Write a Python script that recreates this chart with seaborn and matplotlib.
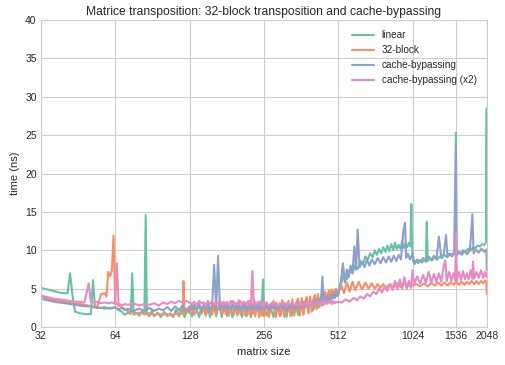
import matplotlib
matplotlib.use("Agg")
import matplotlib.pyplot as plt
import pandas as pd
import seaborn as sns

# time (ns) per element
# the 128..512 stretch is measured on a shared grid of matrix sizes
mid_size = list(range(128, 256, 3)) + list(range(256, 512, 6))

linear_low_size = [32, 34, 36, 38, 40, 41, 42, 43, 44, 46, 48, 50, 51, 52, 53, 56, 58, 60, 62, 64,
                   66, 68, 70, 72, 74, 75, 76, 78, 80, 82, 84, 85, 86, 88, 90, 92, 95, 98, 101, 104,
                   107, 110, 113, 116, 119, 122, 125]
linear_low = [5.1, 4.9, 4.7, 4.5, 4.4, 4.4, 7.0, 4.0, 2.0, 1.8, 1.7, 1.7, 1.7, 6.1, 2.6, 2.5, 2.6, 2.4, 2.5, 2.6,
              2.2, 2.0, 1.6, 1.9, 1.7, 7.0, 1.6, 1.8, 1.5, 2.0, 1.6, 14.6, 1.7, 1.4, 2.1, 1.4, 1.9, 1.3, 2.0, 1.4,
              1.8, 1.3, 2.3, 1.4, 2.5, 1.3, 2.0]
linear_mid = [2.4, 1.4, 2.5, 2.3, 1.3, 2.6, 2.4, 1.5, 2.5, 1.3, 2.6, 2.4, 1.4, 2.5, 2.6, 1.3, 2.4, 2.5, 1.4, 2.6,
              2.5, 1.3, 2.4, 2.6, 1.5, 2.5, 2.4, 1.3, 2.6, 2.5, 1.4, 2.4, 2.6, 1.3, 2.5, 2.7, 1.4, 2.5, 2.6, 1.3,
              2.6, 2.5, 6.2,
              2.5, 1.5, 2.6, 2.4, 1.3, 2.6, 2.5, 1.4, 2.7, 2.5, 1.3, 2.6, 2.7, 1.5, 2.6, 2.8, 1.6, 2.7, 2.8, 1.7,
              2.9, 2.8, 1.9, 3.0, 2.9, 2.2, 3.1, 3.2, 2.5, 3.3, 3.4, 2.8, 3.5, 3.6, 3.1, 3.8, 3.9, 3.4, 4.0, 4.2,
              3.8, 4.3, 4.5]
linear_high_size = [512, 525, 540, 555, 570, 585, 600, 615, 630, 645, 660, 675, 690, 705, 720, 735, 750,
                    765, 780, 795, 810, 825, 840, 855, 870, 885, 900, 915, 930, 945, 960, 975, 990, 1005,
                    1013, 1020, 1030, 1045, 1060, 1080, 1100, 1120, 1140, 1160, 1170, 1180, 1200, 1230,
                    1260, 1290, 1320, 1350, 1380, 1410, 1440, 1470, 1500, 1530, 1536, 1542, 1570, 1600,
                    1640, 1680, 1720, 1760, 1800, 1840, 1880, 1920, 1960, 2000, 2030, 2046, 2048]
linear_high = [4.2, 5.5, 6.8, 6.2, 7.5, 7.0, 8.0, 7.6, 8.6, 8.2, 9.2, 8.8, 9.6, 9.1, 10.0, 9.4, 10.2,
               9.6, 10.4, 9.8, 10.6, 9.9, 10.8, 10.0, 11.0, 10.1, 10.7, 10.2, 11.2, 10.3, 10.9, 10.4, 11.0, 10.5,
               16.0, 10.6, 8.6, 8.2, 8.6, 8.3, 8.7, 8.4, 8.8, 8.5, 13.7, 8.6, 9.0, 8.7,
               9.1, 8.8, 9.2, 9.0, 9.4, 9.1, 9.5, 9.3, 9.7, 9.4, 25.3, 9.5, 9.8, 9.6,
               10.0, 9.8, 10.2, 10.0, 10.4, 10.3, 10.6, 10.5, 10.8, 10.7, 11.0, 28.5, 11.2]

block_low_size = [32, 34, 36, 38, 40, 42, 44, 46, 48, 50, 52, 54, 55, 56, 58, 59, 60, 61, 62, 63,
                  64, 65, 66, 68, 70, 72, 74, 76, 78, 80, 84, 88, 92, 96, 100, 104, 108, 112, 116, 120,
                  121, 122, 125]
block_low = [4.0, 3.7, 3.5, 3.4, 3.3, 3.2, 3.1, 3.0, 2.9, 2.8, 2.7, 2.6, 3.3, 4.3, 4.4, 4.0, 7.2, 6.6, 7.3, 11.9,
             3.3, 3.0, 2.8, 2.6, 2.3, 2.1, 1.9, 2.0, 1.8, 1.9, 1.7, 1.8, 1.6, 1.7, 1.6, 1.7, 1.5, 1.7, 1.6, 1.8,
             6.0, 1.8, 2.4]
block_mid = [1.8, 3.0, 1.6, 2.2, 3.3, 1.7, 2.8, 1.5, 3.4, 2.0, 1.6, 3.1, 1.8, 2.5, 3.5, 1.6, 2.9, 1.7, 3.3, 1.5,
             2.4, 3.4, 1.6, 3.0, 1.8, 3.5, 1.6, 2.6, 3.3, 1.5, 1.9, 3.4, 1.6, 3.1, 1.7, 3.6, 1.5, 2.7, 3.3, 1.4,
             3.0, 1.5, 3.2,
             1.4, 3.2, 1.3, 2.6, 3.4, 1.3, 3.0, 1.4, 3.5, 1.3, 2.8, 3.4, 1.4, 3.6, 1.5, 3.0, 3.7, 1.5, 3.8, 1.6,
             3.3, 3.9, 1.8, 4.0, 2.0, 3.6, 4.2, 2.3, 4.3, 2.6, 4.0, 4.5, 2.9, 4.6, 3.2, 4.4, 4.8, 3.5, 4.9, 3.8,
             4.7, 5.0, 4.0]
block_high_size = [512, 525, 540, 555, 570, 585, 600, 620, 640, 660, 680, 700, 720, 740, 760, 780, 800,
                   830, 860, 890, 920, 950, 980, 1010, 1024, 1060, 1100, 1140, 1180, 1220, 1260, 1300,
                   1340, 1380, 1420, 1460, 1500, 1540, 1580, 1620, 1660, 1700, 1740, 1780, 1820, 1860,
                   1900, 1940, 1980, 2020, 2040, 2048]
block_high = [4.6, 5.6, 4.4, 5.8, 4.6, 5.9, 4.8, 5.9, 4.9, 5.8, 5.0, 5.7, 5.0, 5.6, 5.1, 5.6, 5.1,
              5.6, 5.2, 5.7, 5.2, 5.7, 5.3, 5.7, 5.4, 5.6, 5.3, 5.7, 5.3, 5.7, 5.4, 5.8,
              5.4, 5.8, 5.4, 5.8, 5.5, 5.9, 5.5, 5.9, 5.5, 5.9, 5.6, 6.0, 5.6, 6.0,
              5.6, 6.0, 5.7, 6.1, 5.7, 4.3]

bypass_low_size = [32, 34, 36, 38, 40, 42, 44, 46, 48, 50, 52, 54, 56, 58, 60, 62, 64, 66, 68, 70,
                   72, 76, 80, 84, 88, 92, 96, 100, 104, 108, 112, 116, 120, 124]
bypass_low = [3.7, 3.5, 3.3, 3.2, 3.1, 3.0, 2.9, 2.8, 2.7, 2.7, 2.6, 2.5, 2.5, 2.4, 2.5, 2.4, 2.6, 2.3, 2.5, 2.2,
              2.4, 2.1, 2.4, 2.1, 2.5, 2.1, 2.4, 2.2, 2.6, 2.1, 2.7, 2.2, 2.8, 2.1]
bypass_mid = [2.7, 2.2, 2.9, 2.3, 2.8, 2.1, 2.9, 2.4, 3.0, 2.2, 2.8, 8.1, 2.3, 9.3, 2.2, 2.9, 2.3, 3.0, 2.2, 2.8,
              2.4, 3.0, 2.2, 2.9, 2.3, 3.0, 2.2, 2.8, 2.4, 3.0, 2.1, 2.9, 2.3, 3.0, 2.2, 2.8, 2.4, 3.0, 2.2, 2.9,
              2.3, 3.0, 2.4,
              2.3, 3.0, 2.2, 2.9, 2.4, 3.0, 2.2, 2.9, 2.4, 3.1, 2.2, 3.0, 2.5, 3.1, 2.3, 3.2, 2.5, 3.1, 2.6, 3.3,
              2.6, 3.2, 2.7, 3.4, 2.8, 3.4, 2.9, 3.6, 3.0, 3.7, 3.1, 6.6, 3.2, 3.9, 3.4, 4.0, 3.5, 4.2, 3.7, 4.4,
              3.8, 4.6, 4.1]
bypass_high_size = [512, 525, 535, 545, 555, 565, 575, 585, 595, 605, 614, 625, 640, 655, 670, 685, 700,
                    720, 740, 760, 780, 800, 820, 840, 860, 880, 900, 920, 940, 955, 965, 980, 1000, 1024,
                    1040, 1070, 1100, 1130, 1160, 1190, 1220, 1250, 1280, 1310, 1340, 1370, 1400, 1420,
                    1450, 1480, 1510, 1534, 1545, 1580, 1620, 1660, 1700, 1750, 1790, 1810, 1850, 1900,
                    1950, 2000, 2040, 2048]
bypass_high = [4.2, 6.0, 8.3, 5.8, 7.5, 6.5, 8.0, 7.0, 10.5, 7.5, 12.7, 7.8, 8.5, 7.8, 8.8, 8.0, 8.8,
               8.2, 9.0, 8.3, 9.1, 8.4, 9.2, 8.5, 9.3, 8.6, 9.4, 8.8, 12.5, 13.6, 9.0, 9.6, 8.8, 9.6,
               8.4, 8.8, 8.5, 9.0, 8.6, 9.2, 8.7, 9.3, 8.8, 11.8, 9.0, 9.5, 12.0, 9.1,
               9.6, 9.2, 9.7, 24.0, 9.3, 9.8, 9.4, 9.9, 9.5, 10.0, 14.7, 9.6, 10.1, 9.7,
               10.2, 9.8, 10.1, 7.4]

bypass2_low_size = [32, 34, 36, 38, 40, 42, 44, 46, 48, 50, 51, 52, 54, 56, 58, 60, 62, 64, 65, 66,
                    68, 70, 72, 76, 80, 84, 88, 92, 96, 100, 104, 108, 112, 116, 120, 124]
bypass2_low = [4.1, 3.9, 3.7, 3.6, 3.5, 3.4, 3.3, 3.3, 3.2, 5.7, 3.3, 3.2, 3.3, 3.1, 3.2, 3.1, 3.2, 3.0, 8.3, 3.1,
               2.8, 3.0, 2.9, 3.1, 2.8, 3.0, 2.9, 3.1, 2.8, 3.2, 3.0, 3.3, 3.1, 3.4, 3.2, 3.4]
bypass2_mid = [3.2, 3.0, 3.3, 2.9, 3.4, 3.1, 3.2, 2.9, 3.3, 3.0, 3.4, 2.9, 3.2, 3.1, 3.4, 2.9, 3.3, 3.0, 3.2, 2.9,
               3.4, 3.1, 3.3, 2.9, 3.2, 3.0, 3.4, 2.9, 3.3, 3.1, 3.2, 2.9, 3.4, 3.0, 7.3, 3.1, 3.3, 2.9, 3.2, 3.0,
               3.4, 2.8, 3.2,
               2.8, 3.2, 2.7, 3.1, 2.9, 3.2, 2.7, 3.1, 2.8, 3.2, 2.7, 3.0, 2.9, 3.2, 2.7, 3.1, 2.8, 3.2, 2.8, 3.1,
               2.9, 3.2, 2.8, 3.3, 2.9, 3.2, 2.9, 3.3, 3.0, 3.2, 2.9, 3.3, 3.0, 3.4, 3.0, 3.3, 3.1, 3.4, 3.0, 3.4,
               3.1, 3.3, 3.2]
bypass2_high_size = [512, 530, 550, 570, 590, 610, 630, 650, 670, 690, 710, 730, 750, 770, 790, 810, 830,
                     850, 870, 890, 910, 930, 950, 970, 990, 1010, 1024, 1040, 1070, 1100, 1130, 1160, 1190,
                     1220, 1250, 1280, 1310, 1340, 1370, 1390, 1410, 1440, 1470, 1500, 1525, 1536, 1550,
                     1580, 1610, 1640, 1670, 1700, 1730, 1760, 1790, 1800, 1820, 1860, 1900, 1940, 1980,
                     2010, 2040, 2048]
bypass2_high = [3.3, 3.2, 3.6, 3.3, 3.8, 3.5, 4.0, 3.7, 4.3, 4.0, 4.6, 4.3, 5.0, 4.5, 5.3, 4.7, 5.6,
                4.8, 6.0, 4.9, 6.2, 5.0, 6.5, 5.0, 6.0, 5.1, 7.4, 5.6, 6.6, 5.7, 6.8, 5.8, 7.2,
                5.8, 6.9, 5.9, 7.0, 5.9, 8.0, 8.7, 6.0, 7.2, 6.0, 7.0, 6.1, 12.4, 6.1,
                7.2, 6.1, 7.3, 6.2, 7.0, 6.2, 7.4, 6.3, 8.5, 6.3, 7.2, 6.4, 7.4, 6.4,
                7.2, 6.5, 7.0]

labels = ["linear", "32-block", "cache-bypassing", "cache-bypassing (x2)"]
x_ticks = [32, 64, 128, 256, 512, 1024, 1536, 2048]

parts = [
    (labels[0], linear_low_size + mid_size + linear_high_size, linear_low + linear_mid + linear_high),
    (labels[1], block_low_size + mid_size + block_high_size, block_low + block_mid + block_high),
    (labels[2], bypass_low_size + mid_size + bypass_high_size, bypass_low + bypass_mid + bypass_high),
    (labels[3], bypass2_low_size + mid_size + bypass2_high_size, bypass2_low + bypass2_mid + bypass2_high),
]
df = pd.concat([pd.DataFrame({"size": s, "time": t, "method": name}) for name, s, t in parts])

sns.set_style("whitegrid")
plt.rcParams["font.family"] = ["Liberation Sans", "DejaVu Sans"]

fig, ax = plt.subplots(figsize=(5.05, 3.65), dpi=100)
fig.subplots_adjust(left=0.081, right=0.964, bottom=0.104, top=0.945)

sns.lineplot(data=df, x="size", y="time", hue="method", hue_order=labels,
             palette="Set2", estimator=None, sort=True, linewidth=1.5, ax=ax)

ax.set_xscale("log", base=2)
ax.set_xlim(32, 2048)
ax.set_ylim(0, 40)
ax.set_xticks(x_ticks)
ax.set_xticklabels([str(t) for t in x_ticks])
ax.minorticks_off()
ax.set_yticks(range(0, 41, 5))
ax.tick_params(labelsize=7.5, length=0, pad=3)

ax.set_title("Matrice transposition: 32-block transposition and cache-bypassing",
             fontsize=8.7, pad=4)
ax.set_xlabel("matrix size", fontsize=8)
ax.set_ylabel("time (ns)", fontsize=8)

handles, _ = ax.get_legend_handles_labels()
ax.legend(handles, labels, loc="upper right", frameon=False, fontsize=7.2,
          handlelength=2.2, borderaxespad=0.6)

fig.savefig("out.png")
